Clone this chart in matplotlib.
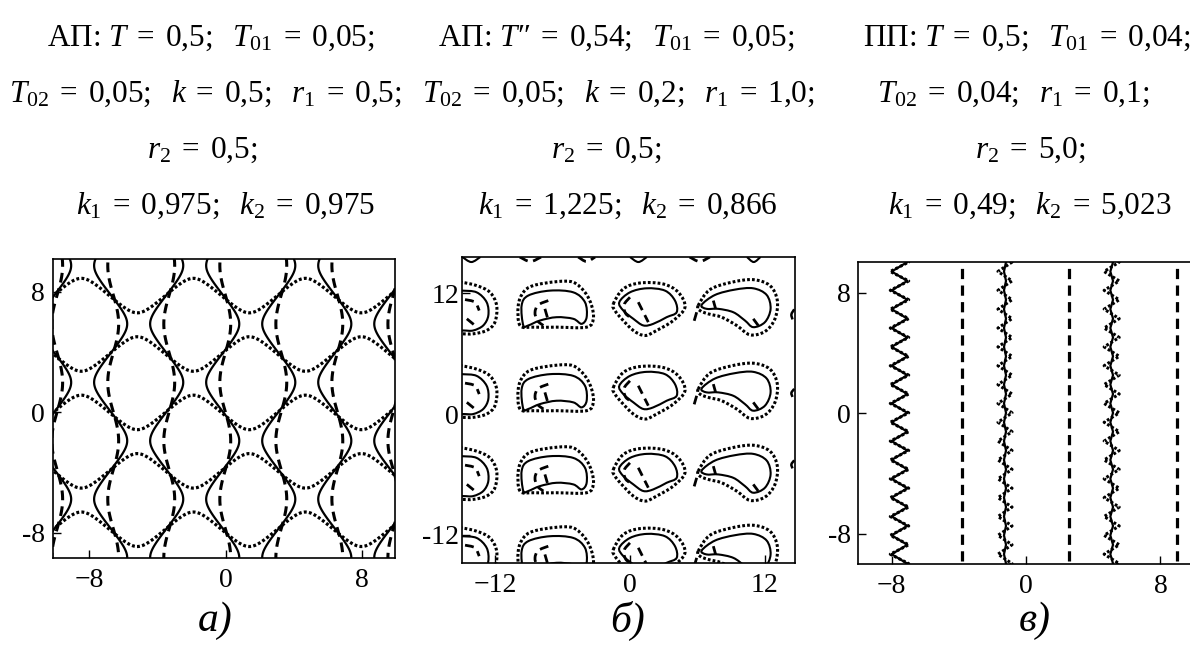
import numpy as np
import matplotlib
matplotlib.use("Agg")
import matplotlib.pyplot as plt
from matplotlib.path import Path
from matplotlib.patches import PathPatch

plt.rcParams['font.family'] = ['Liberation Serif', 'DejaVu Serif']
plt.rcParams['mathtext.fontset'] = 'custom'
plt.rcParams['mathtext.rm'] = 'Liberation Serif'
plt.rcParams['mathtext.it'] = 'Liberation Serif:italic'
plt.rcParams['mathtext.bf'] = 'Liberation Serif:bold'

# ---------------- text ----------------
EQ = r"\;=\;"
SEP = r";\ \ "
titles = [
    [r"АП: $T" + EQ + r"0{,}5" + SEP + r"T_{01}" + EQ + r"0{,}05;$",
     r"$T_{02}" + EQ + r"0{,}05" + SEP + r"k" + EQ + r"0{,}5" + SEP + r"r_1" + EQ + r"0{,}5;$",
     r"$r_2" + EQ + r"0{,}5;$",
     r"$k_1" + EQ + r"0{,}975" + SEP + r"k_2" + EQ + r"0{,}975$"],
    [r"АП: $T$″$" + EQ + r"0{,}54" + SEP + r"T_{01}" + EQ + r"0{,}05;$",
     r"$T_{02}" + EQ + r"0{,}05" + SEP + r"k" + EQ + r"0{,}2" + SEP + r"r_1" + EQ + r"1{,}0;$",
     r"$r_2" + EQ + r"0{,}5;$",
     r"$k_1" + EQ + r"1{,}225" + SEP + r"k_2" + EQ + r"0{,}866$"],
    [r"ПП: $T" + EQ + r"0{,}5" + SEP + r"T_{01}" + EQ + r"0{,}04;$",
     r"$T_{02}" + EQ + r"0{,}04" + SEP + r"r_1" + EQ + r"0{,}1;$",
     r"$r_2" + EQ + r"5{,}0;$",
     r"$k_1" + EQ + r"0{,}49" + SEP + r"k_2" + EQ + r"5{,}023$"],
]
captions = ["а)", "б)", "в)"]

ticks_a = [-8, 0, 8]
xticklabels_a = ["\u22128", "0", "8"]
yticklabels_a = ["-8", "0", "8"]
ticks_b = [-12, 0, 12]
xticklabels_b = ["\u221212", "0", "12"]
yticklabels_b = ["-12", "0", "12"]
ticks_c = [-8, 0, 8]
xticklabels_c = ["\u22128", "0", "8"]
yticklabels_c = ["-8", "0", "8"]

# ---------------- panel a: pattern parameters ----------------
a_kx = 0.955          # wave number along x
a_ky = 0.81           # wave number along y
a_solid = dict(x0=-5.1, y0=2.0, amp=0.8)
a_dashed = dict(x0=-4.95, y0=2.0, amp=0.3)
a_dotted = dict(xc=-1.89, y0=-1.935, amp=0.8)

# ---------------- panel b: blob outlines (row 2, data coords) ----------------
b_row_offsets = [8.3, 0.0, -8.15, -16.1]

b_dot_x = [
    [-16.0, -14.96, -13.63, -12.44, -11.85, -12.0, -12.74, -13.93, -14.96, -16.0],
    [-9.78, -9.93, -9.48, -8.59, -6.52, -5.04, -4.0, -3.41, -3.26, -3.85, -6.52, -8.59],
    [-1.48, -0.59, 0.89, 2.96, 4.30, 4.89, 3.85, 2.37, 1.33, 0.30, -0.74, -1.33],
    [6.07, 7.11, 9.04, 10.96, 12.44, 13.1, 12.89, 12.0, 10.67, 9.48, 8.15, 6.96, 6.22],
]
b_dot_y = [
    [4.9, 4.79, 4.46, 3.79, 2.48, 0.83, 0.0, -0.33, -0.33, -0.3],
    [0.50, 2.48, 3.79, 4.46, 4.85, 4.79, 3.79, 2.48, 1.16, 0.33, 0.33, 0.33],
    [2.64, 4.13, 4.72, 4.62, 3.79, 2.31, 0.99, 0.0, -0.50, 0.0, 1.16, 1.98],
    [2.48, 4.06, 4.79, 5.05, 4.46, 2.97, 1.16, -0.10, -0.43, 0.50, 1.32, 1.65, 1.98],
]
b_sol_x = [
    [-16.0, -14.96, -13.63, -12.74, -12.59, -13.04, -13.93, -14.8, -16.0],
    [-9.48, -9.63, -9.04, -7.11, -5.04, -4.0, -3.85, -4.3, -5.04, -6.52, -8.0, -9.04],
    [-0.95, 0.0, 1.48, 3.11, 4.0, 4.15, 3.26, 2.07, 1.19, 0.30, -0.59],
    [6.37, 7.56, 9.33, 10.96, 12.15, 12.5, 12.0, 10.96, 10.22, 9.19, 7.85, 6.81],
]
b_sol_y = [
    [4.0, 3.96, 3.79, 2.81, 1.49, 0.50, 0.0, 0.0, 0.0],
    [0.50, 2.48, 3.47, 3.96, 3.79, 2.81, 1.32, 0.66, 1.16, 1.32, 0.99, 0.50],
    [2.81, 3.79, 4.19, 3.96, 2.97, 1.81, 1.32, 0.66, 0.50, 1.16, 1.98],
    [2.54, 3.53, 4.06, 4.19, 3.53, 2.15, 0.83, 0.33, 0.99, 1.81, 2.15, 2.15],
]
b_closed = [False, True, True, True]
b_dash_x = [
    [[-14.66, -13.78, -13.4], [-14.5, -13.78]],
    [[-7.26, -8.15, -8.44, -8.24, -7.7], [-7.56, -7.26]],
    [[0.0, -0.53, -0.36, 0.30], [0.74, 1.63]],
    [[5.93, 5.63], [7.41, 7.7], [10.96, 11.4]],
]
b_dash_y = [
    [[3.07, 2.81, 1.98], [1.16, 0.50]],
    [[2.97, 2.54, 1.81, 0.99, 0.50], [2.15, 0.99]],
    [[3.30, 2.54, 1.65, 1.16], [2.81, 0.83]],
    [[1.81, 0.66], [2.97, 1.81], [1.16, 0.50]],
]
# fragments of neighbouring blobs poking in at the top and right edges
b_top_x = [[-14.9, -14.1, -13.3], [-9.8, -8.85, -7.9], [-4.6, -3.85, -3.1],
           [0.0, 0.75, 1.5], [5.3, 6.2, 7.1], [10.4, 11.0, 11.6]]
b_top_y = [[15.6, 15.1, 15.6], [15.6, 15.15, 15.6], [15.6, 15.15, 15.6],
           [15.6, 15.1, 15.6], [15.6, 15.15, 15.6], [15.6, 15.1, 15.6]]
b_top_solid = [True, False, False, True, False, True]
b_right_y = [[10.4, 9.9, 9.4], [2.5, 2.1, 1.7], [-4.6, -5.0, -5.4]]
b_right_x = [[14.6, 14.35, 14.45], [14.6, 14.35, 14.45], [14.6, 14.35, 14.45]]

# ---------------- panel c: line positions ----------------
c_zig_centers = [-7.53, -1.25, 5.1]
c_zig_solid_amp = [0.47, 0.06, 0.08]
c_zig_dot_amp = [0.55, 0.42, 0.45]
c_zig_period = 1.25
c_dash_x = [-3.83, 2.58, 8.97]

# ---------------- styles ----------------
DASH = (0, (3.2, 2.0))
DOT = (0, (0.9, 0.7))

fig = plt.figure(figsize=(11.9, 6.51), dpi=100)
W, H = 1190.0, 651.0

def add_ax(l, r, t, b):
    return fig.add_axes([l / W, 1 - b / H, (r - l) / W, (b - t) / H])

ax_a = add_ax(53, 395, 259, 558)
ax_b = add_ax(462, 795, 257, 563)
ax_c = add_ax(858, 1194, 262, 564)

def style_axes(ax, xlim, ylim, xt, xtl, yt, ytl, ypad):
    ax.set_xlim(*xlim)
    ax.set_ylim(*ylim)
    ax.set_xticks(xt)
    ax.set_xticklabels(xtl)
    ax.set_yticks(yt)
    ax.set_yticklabels(ytl)
    ax.tick_params(direction='in', length=6, width=1.0, labelsize=20)
    ax.tick_params(axis='x', pad=7)
    ax.tick_params(axis='y', pad=ypad)
    for s in ax.spines.values():
        s.set_linewidth(1.2)

def smooth_path(xs, ys, closed):
    """Catmull-Rom style Bezier path through the read outline points."""
    P = np.column_stack([xs, ys]).astype(float)
    n = len(P)
    verts = [P[0]]
    codes = [Path.MOVETO]
    segs = n if closed else n - 1
    for i in range(segs):
        p0 = P[(i - 1) % n] if (closed or i > 0) else P[i]
        p1 = P[i % n]
        p2 = P[(i + 1) % n]
        p3 = P[(i + 2) % n] if (closed or i + 2 < n) else P[(i + 1) % n]
        c1 = p1 + (p2 - p0) / 6.0
        c2 = p2 - (p3 - p1) / 6.0
        verts += [c1, c2, p2]
        codes += [Path.CURVE4, Path.CURVE4, Path.CURVE4]
    return Path(verts, codes)

def draw_curve(ax, xs, ys, closed, **kw):
    patch = PathPatch(smooth_path(xs, ys, closed), fill=False, **kw)
    ax.add_patch(patch)

# ---- panel a ----
gx = np.linspace(-11, 11, 700)
gy = np.linspace(-11, 11, 700)
X, Y = np.meshgrid(gx, gy)
Fs = np.cos(a_kx * (X - a_solid['x0'])) + a_solid['amp'] * np.cos(a_ky * (Y - a_solid['y0']))
Fd = np.cos(a_kx * (X - a_dashed['x0'])) + a_dashed['amp'] * np.cos(a_ky * (Y - a_dashed['y0']))
G = np.cos(a_ky * (Y - a_dotted['y0'])) + a_dotted['amp'] * np.cos(a_kx * (X - a_dotted['xc']))
cs1 = ax_a.contour(X, Y, Fs, levels=[0], colors='k', linewidths=1.6)
cs2 = ax_a.contour(X, Y, Fd, levels=[0], colors='k', linewidths=2.2)
cs2.set_linestyle(DASH)
cs3 = ax_a.contour(X, Y, G, levels=[0], colors='k', linewidths=2.3)
cs3.set_linestyle(DOT)
style_axes(ax_a, (-10.13, 9.95), (-9.66, 10.19), ticks_a, xticklabels_a, ticks_a, yticklabels_a, 6)

# ---- panel b ----
for off in b_row_offsets:
    for ci in range(4):
        draw_curve(ax_b, b_dot_x[ci], np.array(b_dot_y[ci]) + off, b_closed[ci],
                   edgecolor='k', lw=2.2, linestyle=DOT)
        draw_curve(ax_b, b_sol_x[ci], np.array(b_sol_y[ci]) + off, b_closed[ci],
                   edgecolor='k', lw=1.5)
        for sx, sy in zip(b_dash_x[ci], b_dash_y[ci]):
            draw_curve(ax_b, sx, np.array(sy) + off, False, edgecolor='k', lw=2.0,
                       linestyle=DASH)
for tx, ty, solid in zip(b_top_x, b_top_y, b_top_solid):
    if solid:
        draw_curve(ax_b, tx, ty, False, edgecolor='k', lw=1.5)
    else:
        draw_curve(ax_b, tx, ty, False, edgecolor='k', lw=2.0, linestyle=DASH)
for rx, ry in zip(b_right_x, b_right_y):
    draw_curve(ax_b, rx, ry, False, edgecolor='k', lw=1.8)
style_axes(ax_b, (-14.93, 14.67), (-14.8, 15.6), ticks_b, xticklabels_b, ticks_b, yticklabels_b, 2)

# ---- panel c ----
yv = np.arange(-10.6, 10.7, c_zig_period / 2)
sign = np.where(np.arange(len(yv)) % 2 == 0, -1.0, 1.0)
for cx, sa, da in zip(c_zig_centers, c_zig_solid_amp, c_zig_dot_amp):
    ax_c.plot(cx + sa * sign, yv, color='k', lw=1.6)
    ax_c.plot(cx + da * sign, yv, color='k', lw=2.2, linestyle=DOT)
for dx in c_dash_x:
    ax_c.plot([dx, dx], [-9.8, 10.03], color='k', lw=2.3, linestyle=DASH)
style_axes(ax_c, (-10.0, 10.0), (-10.0, 10.03), ticks_c, xticklabels_c, ticks_c, yticklabels_c, 5)
ax_c.spines['right'].set_visible(False)

# ---- titles ----
centers = [[211, 205, 202, 226], [616, 618, 606, 628], [1027, 1013, 1030, 1030]]
baselines = [46, 102, 158, 214]
for p in range(3):
    for li in range(4):
        fig.text(centers[p][li] / W, 1 - baselines[li] / H, titles[p][li],
                 ha='center', va='baseline', fontsize=22.5)

cap_x = [215, 628, 1035]
for p in range(3):
    fig.text(cap_x[p] / W, 1 - 621 / H, captions[p], ha='center', va='center',
             fontsize=30, style='italic')

fig.savefig("out.png", dpi=100)
